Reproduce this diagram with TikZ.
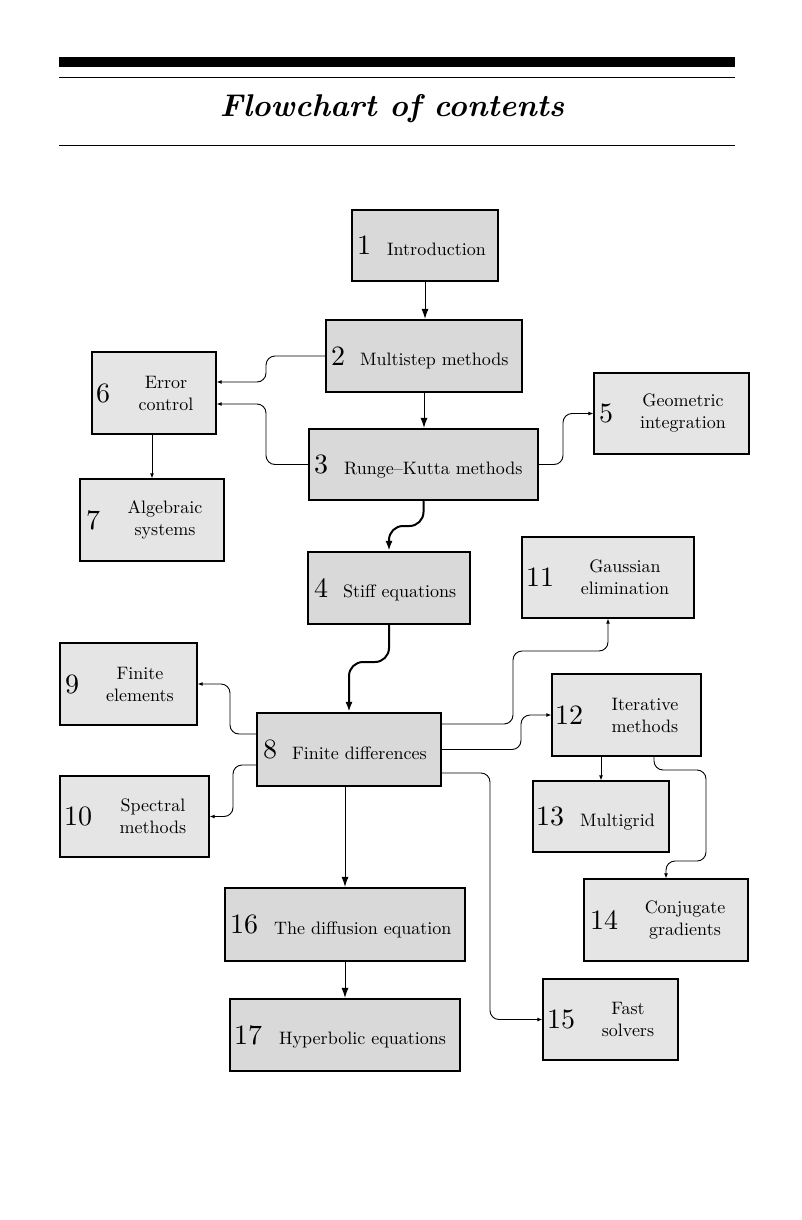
\documentclass[tikz,border=0pt]{standalone}
\usepackage{fontspec}
\setmainfont{lmroman10}[Extension=.otf, UprightFont=*-regular, BoldFont=*-bold, ItalicFont=*-italic, BoldItalicFont=*-bolditalic]
\usetikzlibrary{arrows.meta,fit}
\definecolor{boxdark}{RGB}{217,217,217}
\definecolor{boxlight}{RGB}{229,229,229}
\tikzset{
  chapdark/.style={draw, fill=boxdark, line width=2.2pt, inner sep=0pt},
  chapone/.style={draw, fill=boxdark, line width=1.6pt, inner sep=0pt},
  chaplight/.style={draw, fill=boxlight, line width=1.3pt, inner sep=0pt},
  num/.style={inner sep=0pt, font=\fontsize{28}{30}\selectfont, anchor=west},
  lbl/.style={inner sep=0pt, font=\fontsize{18}{22}\selectfont},
  lblone/.style={lbl, anchor=base west},
  lbltwo/.style={lbl, align=center, anchor=center},
  mainarrow/.style={line width=1pt, -{Latex[length=10pt,width=7pt]}},
  thickarrow/.style={line width=2pt, -{Latex[length=10pt,width=7pt]}, rounded corners=14pt},
  sidearrow/.style={line width=0.9pt, -{Latex[length=5pt,width=4pt]}, rounded corners=9pt},
}
\newcommand\mkchap[6]{\node[#6, fit={(#2,#3) (#4,#5)}] (#1) {};}
\begin{document}
\begin{tikzpicture}[x=1pt,y=-1pt]
\useasboundingbox (0,0) rectangle (801,1220);
% header
\fill (59,57) rectangle (735,67);
\draw[line width=1pt] (59,78) -- (735,78);
\draw[line width=1pt] (59,145) -- (735,145);
\node[inner sep=0pt, anchor=base, font=\fontsize{31.4}{34}\selectfont\bfseries\itshape] (title) at (392,117) {Flowchart of contents};
% boxes
\mkchap{b1}{352}{210}{498}{281}{chapone}
\mkchap{b2}{326}{320}{522}{392}{chapdark}
\mkchap{b3}{309}{429}{538}{500}{chapdark}
\mkchap{b4}{308}{552}{470}{624}{chapdark}
\mkchap{b5}{594}{373}{749}{454}{chaplight}
\mkchap{b6}{92}{352}{216}{434}{chaplight}
\mkchap{b7}{80}{479}{224}{561}{chaplight}
\mkchap{b8}{257}{713}{441}{786}{chapdark}
\mkchap{b9}{60}{643}{197}{725}{chaplight}
\mkchap{b10}{60}{776}{209}{857}{chaplight}
\mkchap{b11}{522}{537}{694}{618}{chaplight}
\mkchap{b12}{552}{674}{701}{756}{chaplight}
\mkchap{b13}{533}{781}{669}{852}{chaplight}
\mkchap{b14}{584}{879}{748}{961}{chaplight}
\mkchap{b15}{543}{979}{678}{1060}{chaplight}
\mkchap{b16}{225}{888}{465}{961}{chapdark}
\mkchap{b17}{230}{999}{460}{1071}{chapdark}
% numbers
\node[num] (n1) at (357,245.5) {1};
\node[num] (n2) at (331,356) {2};
\node[num] (n3) at (314,464.5) {3};
\node[num] (n4) at (314,588) {4};
\node[num] (n5) at (599,413.5) {5};
\node[num] (n6) at (96,393) {6};
\node[num] (n7) at (86,520) {7};
\node[num] (n8) at (263,749.5) {8};
\node[num] (n9) at (65,684) {9};
\node[num] (n10) at (64,816.5) {10};
\node[num] (n11) at (526,577.5) {11};
\node[num] (n12) at (555,715) {12};
\node[num] (n13) at (536,816.5) {13};
\node[num] (n14) at (590,920) {14};
\node[num] (n15) at (547,1019.5) {15};
\node[num] (n16) at (230,924.5) {16};
\node[num] (n17) at (234,1035) {17};
% labels
\node[lblone] (t1) at (387,255) {Introduction};
\node[lblone] (t2) at (360,365.5) {Multistep methods};
\node[lblone] (t3) at (344,474) {Runge--Kutta methods};
\node[lblone] (t4) at (343,597.5) {Stiff equations};
\node[lbltwo] (t5) at (683,413.5) {Geometric\\integration};
\node[lbltwo] (t6) at (166,393) {Error\\control};
\node[lbltwo] (t7) at (165,520) {Algebraic\\systems};
\node[lblone] (t8) at (292,759) {Finite differences};
\node[lbltwo] (t9) at (140,684) {Finite\\elements};
\node[lbltwo] (t10) at (153,816.5) {Spectral\\methods};
\node[lbltwo] (t11) at (625,577.5) {Gaussian\\elimination};
\node[lbltwo] (t12) at (645,715) {Iterative\\methods};
\node[lblone] (t13) at (580,826) {Multigrid};
\node[lbltwo] (t14) at (685,920) {Conjugate\\gradients};
\node[lbltwo] (t15) at (628,1019.5) {Fast\\solvers};
\node[lblone] (t16) at (274,934) {The diffusion equation};
\node[lblone] (t17) at (279,1044.5) {Hyperbolic equations};
% connectors
\draw[mainarrow] (b1.south) -- (b1.south |- b2.north);
\draw[mainarrow] (b2.south) -- (b2.south |- b3.north);
\draw[thickarrow] (b3.south) -- (423.5,526) -- (389,526) -- (b4.north);
\draw[thickarrow] (b4.south) -- (389,662) -- (349,662) -- (b8.north);
\draw[mainarrow] (b16.north |- b8.south) -- (b16.north);
\draw[mainarrow] (b16.south) -- (b16.south |- b17.north);
\draw[sidearrow] (b2.west) -- (266,356) -- (266,382) -- ([yshift=11pt]b6.east);
\draw[sidearrow] (b3.west) -- (266,464.5) -- (266,404) -- ([yshift=-11pt]b6.east);
\draw[sidearrow] (b3.east) -- (563,464.5) -- (563,413.5) -- (b5.west);
\draw[sidearrow] (b7.north |- b6.south) -- (b7.north);
\draw[sidearrow] ([yshift=15.5pt]b8.west) -- (230,734) -- (230,684) -- (b9.east);
\draw[sidearrow] ([yshift=-15.5pt]b8.west) -- (233,765) -- (233,816.5) -- (b10.east);
\draw[sidearrow] ([yshift=25.5pt]b8.east) -- (513,724) -- (513,651) -- (608,651) -- (b11.south);
\draw[sidearrow] (b8.east) -- (521,749.5) -- (521,715) -- (b12.west);
\draw[sidearrow] ([yshift=-23.5pt]b8.east) -- (490,773) -- (490,1019.5) -- (b15.west);
\draw[sidearrow] (b13.north |- b12.south) -- (b13.north);
\draw[sidearrow] ([xshift=27.5pt]b12.south) -- (654,770) -- (706,770) -- (706,861) -- (666,861) -- (b14.north);
\end{tikzpicture}
\end{document}
